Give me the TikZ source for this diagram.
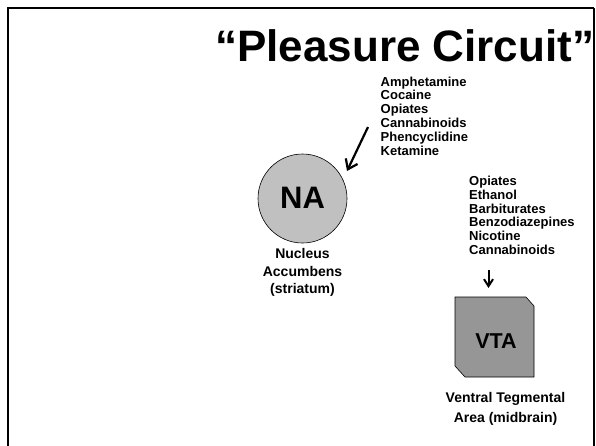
\documentclass[tikz,border=0pt]{standalone}
\usepackage{fontspec}
\setmainfont{Liberation Sans}
\usetikzlibrary{arrows.meta}
\definecolor{nagray}{HTML}{C0C0C0}
\definecolor{vtagray}{HTML}{969696}
\tikzset{
  drug/.style={anchor=base west, inner sep=0pt, font=\fontsize{13}{15}\selectfont\bfseries},
  lbl/.style={anchor=base, inner sep=0pt, font=\fontsize{14}{16}\selectfont\bfseries},
  arrbig/.style={line width=2.2pt, -{Straight Barb[length=9pt,width=13pt,line width=2.2pt]}},
  arrsmall/.style={line width=2pt, -{Straight Barb[length=7pt,width=9pt,line width=2pt]}},
}
\begin{document}
\begin{tikzpicture}[x=1pt,y=-1pt]
\useasboundingbox (0,0) rectangle (596,445);
% frame
\draw[line width=2.6pt] (8,447) -- (8,8) -- (594,8);
\draw[line width=1.2pt] (594,8) -- (594,447);
% title
\node[anchor=base west, inner sep=0pt, font=\fontsize{44}{48}\selectfont\bfseries] (title) at (215,61.7) {“Pleasure Circuit”};
% left drug list
\foreach \t [count=\i] in {Amphetamine,Cocaine,Opiates,Cannabinoids,Phencyclidine,Ketamine}
  \node[drug] (l\i) at (380.5,{86+(\i-1)*13.8}) {\t};
% right drug list
\foreach \t [count=\i] in {Opiates,Ethanol,Barbiturates,Benzodiazepines,Nicotine,Cannabinoids}
  \node[drug] (r\i) at (469,{185.5+(\i-1)*13.8}) {\t};
% NA
\node[circle, draw=black, line width=0.6pt, fill=nagray, minimum size=89pt, inner sep=0pt] (na) at (302.5,198.5) {};
\node[anchor=base, inner sep=0pt, font=\fontsize{31}{34}\selectfont\bfseries] (natext) at (302.5,208) {NA};
\node[lbl] (nal1) at (302.5,258) {Nucleus};
\node[lbl] (nal2) at (302.5,276) {Accumbens};
\node[lbl] (nal3) at (302.5,293) {(striatum)};
% VTA
\draw[line width=0.6pt, fill=vtagray] (455,297) -- (526,297) -- (534,306) -- (534,377) -- (465,377) -- (455,366) -- cycle;
\node[anchor=base, inner sep=0pt, font=\fontsize{21.5}{24}\selectfont\bfseries] (vta) at (496,348) {VTA};
\node[lbl] (vl1) at (505.5,402) {Ventral Tegmental};
\node[lbl] (vl2) at (505.5,422) {Area (midbrain)};
% arrows
\coordinate (a1) at (368,127);
\coordinate (a2) at (347,171);
\draw[arrbig] (a1) -- (a2);
\coordinate (b1) at (488.5,270);
\coordinate (b2) at (488.5,288);
\draw[arrsmall] (b1) -- (b2);
\end{tikzpicture}
\end{document}
